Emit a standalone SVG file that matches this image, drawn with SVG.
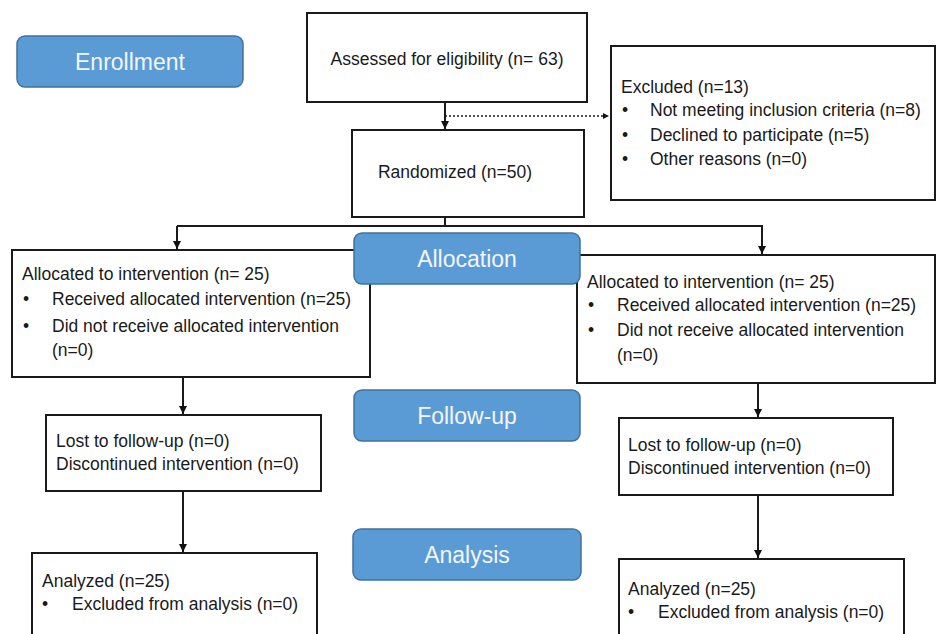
<svg xmlns="http://www.w3.org/2000/svg" width="937" height="634" viewBox="0 0 937 634">
<defs>
<marker id="ah" viewBox="0 0 10 10" refX="10" refY="5" markerWidth="4" markerHeight="4" orient="auto" markerUnits="strokeWidth">
<path d="M0,0 L10,5 L0,10 z" fill="#111"/>
</marker>
<style>
.box{fill:#fff;stroke:#1a1a1a;stroke-width:2}
.lab{fill:#5b9bd5;stroke:#41719c;stroke-width:1.5}
.lt{font-family:"Liberation Sans",Arial,sans-serif;font-size:23px;fill:#f2f6fb;text-anchor:middle}
.t{font-family:"Liberation Sans",Arial,sans-serif;font-size:17.5px;fill:#1a1a1a}
.c{stroke:#1a1a1a;stroke-width:2;fill:none}
.d{stroke:#1a1a1a;stroke-width:1.5;fill:none;stroke-dasharray:2,2}
</style>
</defs>
<rect width="937" height="634" fill="#fff"/>
<g id="connectors">
<line class="c" x1="445" y1="102" x2="445" y2="129" marker-end="url(#ah)"/>
<line class="d" x1="445" y1="116" x2="609" y2="116" marker-end="url(#ah)"/>
<line class="c" x1="445" y1="217" x2="445" y2="226"/>
<polyline class="c" points="177,226 762,226 762,254" marker-end="url(#ah)"/>
<line class="c" x1="177" y1="226" x2="177" y2="249" marker-end="url(#ah)"/>
<line class="c" x1="183" y1="377" x2="183" y2="414" marker-end="url(#ah)"/>
<line class="c" x1="183" y1="491" x2="183" y2="552" marker-end="url(#ah)"/>
<line class="c" x1="758" y1="383" x2="758" y2="417" marker-end="url(#ah)"/>
<line class="c" x1="758" y1="495" x2="758" y2="558" marker-end="url(#ah)"/>
</g>
<g id="enrollment"><rect class="lab" x="17" y="36" width="226" height="51" rx="8"/><text class="lt" x="130" y="70">Enrollment</text></g>
<g id="assessed"><rect class="box" x="307" y="13" width="280" height="89"/><text class="t" x="447" y="65" text-anchor="middle">Assessed for eligibility (n= 63)</text></g>
<g id="excluded"><rect class="box" x="611" y="46" width="324" height="154"/>
<text class="t" x="621" y="93">Excluded (n=13)</text>
<text class="t" x="622" y="116">•</text><text class="t" x="650" y="116">Not meeting inclusion criteria (n=8)</text>
<text class="t" x="622" y="141">•</text><text class="t" x="650" y="141">Declined to participate (n=5)</text>
<text class="t" x="622" y="165">•</text><text class="t" x="650" y="165">Other reasons (n=0)</text>
</g>
<g id="randomized"><rect class="box" x="352" y="130" width="232" height="87"/><text class="t" x="455" y="178" text-anchor="middle">Randomized (n=50)</text></g>
<g id="alloc-left"><rect class="box" x="12" y="250" width="358" height="127"/>
<text class="t" x="22" y="280">Allocated to intervention (n= 25)</text>
<text class="t" x="23" y="305">•</text><text class="t" x="52" y="305">Received allocated intervention (n=25)</text>
<text class="t" x="23" y="332">•</text><text class="t" x="52" y="332">Did not receive allocated intervention</text>
<text class="t" x="52" y="356">(n=0)</text>
</g>
<g id="alloc-right"><rect class="box" x="577" y="255" width="358" height="128"/>
<text class="t" x="587" y="288">Allocated to intervention (n= 25)</text>
<text class="t" x="588" y="311">•</text><text class="t" x="617" y="311">Received allocated intervention (n=25)</text>
<text class="t" x="588" y="336">•</text><text class="t" x="617" y="336">Did not receive allocated intervention</text>
<text class="t" x="617" y="361">(n=0)</text>
</g>
<g id="allocation"><rect class="lab" x="354" y="233" width="226" height="51" rx="8"/><text class="lt" x="467" y="267">Allocation</text></g>
<g id="followup"><rect class="lab" x="354" y="390" width="226" height="51" rx="8"/><text class="lt" x="467" y="424">Follow-up</text></g>
<g id="analysis"><rect class="lab" x="353" y="529" width="228" height="51" rx="8"/><text class="lt" x="467" y="563">Analysis</text></g>
<g id="lost-left"><rect class="box" x="46" y="415" width="275" height="76"/>
<text class="t" x="56" y="447">Lost to follow-up (n=0)</text>
<text class="t" x="56" y="470">Discontinued intervention (n=0)</text>
</g>
<g id="lost-right"><rect class="box" x="619" y="418" width="274" height="77"/>
<text class="t" x="628" y="451">Lost to follow-up (n=0)</text>
<text class="t" x="628" y="474">Discontinued intervention (n=0)</text>
</g>
<g id="analyzed-left"><rect class="box" x="32" y="553" width="285" height="100"/>
<text class="t" x="42" y="587">Analyzed (n=25)</text>
<text class="t" x="42" y="610">•</text><text class="t" x="72" y="610">Excluded from analysis (n=0)</text>
</g>
<g id="analyzed-right"><rect class="box" x="619" y="559" width="285" height="100"/>
<text class="t" x="628" y="595">Analyzed (n=25)</text>
<text class="t" x="628" y="618">•</text><text class="t" x="658" y="618">Excluded from analysis (n=0)</text>
</g>
</svg>
